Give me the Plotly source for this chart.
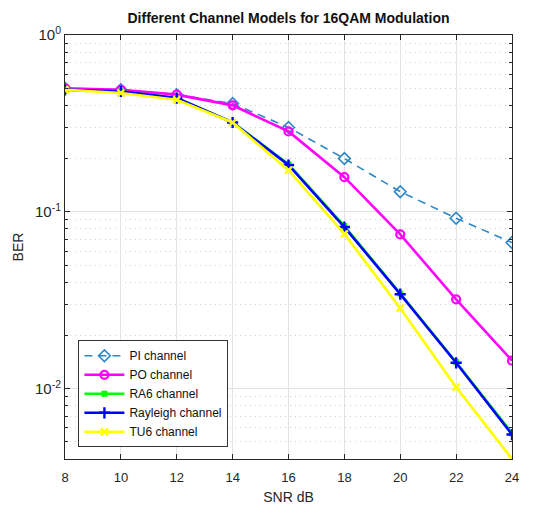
import plotly.graph_objects as go

snr_db = [8, 10, 12, 14, 16, 18, 20, 22, 24]

ber_pi = [0.50, 0.49, 0.46, 0.41, 0.30, 0.20, 0.13, 0.092, 0.067]
ber_po = [0.50, 0.49, 0.46, 0.40, 0.285, 0.157, 0.0745, 0.032, 0.0144]
ber_ra6 = [0.49, 0.48, 0.44, 0.32, 0.186, 0.083, 0.0345, 0.0141, 0.0056]
ber_rayleigh = [0.49, 0.48, 0.44, 0.32, 0.184, 0.082, 0.0342, 0.0140, 0.0055]
ber_tu6 = [0.49, 0.47, 0.43, 0.32, 0.172, 0.075, 0.0285, 0.0102, 0.0040]

series_names = ["PI channel", "PO channel", "RA6 channel", "Rayleigh channel", "TU6 channel"]

x_ticks = [8, 10, 12, 14, 16, 18, 20, 22, 24]
y_ticks = [0.01, 0.1, 1]
y_tick_text = ["10<sup>-2</sup>", "10<sup>-1</sup>", "10<sup>0</sup>"]
y_minor = [m * 10.0 ** e for e in (-3, -2, -1) for m in range(2, 10)]

fig = go.Figure()

fig.add_trace(go.Scatter(
    x=snr_db, y=ber_pi, name=series_names[0], mode="lines+markers",
    line=dict(color="#2b87c6", width=1.6, dash="8px,6px"),
    marker=dict(symbol="diamond-open", size=9, color="#2b87c6", line=dict(width=1.6)),
))
fig.add_trace(go.Scatter(
    x=snr_db, y=ber_po, name=series_names[1], mode="lines+markers",
    line=dict(color="#ff00ff", width=2.6),
    marker=dict(symbol="circle-open", size=8, color="#ff00ff", line=dict(width=2.2)),
))
fig.add_trace(go.Scatter(
    x=snr_db, y=ber_ra6, name=series_names[2], mode="lines+markers",
    line=dict(color="#00ff00", width=2.6),
    marker=dict(symbol="square", size=6, color="#00ff00"),
))
fig.add_trace(go.Scatter(
    x=snr_db, y=ber_rayleigh, name=series_names[3], mode="lines+markers",
    line=dict(color="#0000ff", width=2.6),
    marker=dict(symbol="cross-thin", size=8, color="#0000ff", line=dict(width=2.4, color="#0000ff")),
))
fig.add_trace(go.Scatter(
    x=snr_db, y=ber_tu6, name=series_names[4], mode="lines+markers",
    line=dict(color="#ffff00", width=2.6),
    marker=dict(symbol="x-thin", size=7, color="#ffff00", line=dict(width=2.4, color="#ffff00")),
))

axis_font = dict(family="Liberation Sans, Arial, sans-serif", size=12, color="#262626")

fig.update_layout(
    width=552, height=514,
    margin=dict(l=65, r=40, t=35, b=55),
    paper_bgcolor="white", plot_bgcolor="white",
    font=axis_font,
    title=dict(
        text="<b>Different Channel Models for 16QAM Modulation</b>",
        x=0.5, xanchor="center", xref="paper", y=0.965, yanchor="middle",
        font=dict(family="Liberation Sans, Arial, sans-serif", size=14, color="#111111"),
    ),
    showlegend=True,
    legend=dict(
        x=0.03, y=0.28, xanchor="left", yanchor="top",
        bgcolor="white", bordercolor="#333333", borderwidth=1,
        font=dict(family="Liberation Sans, Arial, sans-serif", size=12, color="#111111"),
        tracegroupgap=0, itemwidth=40,
    ),
)

fig.update_xaxes(
    range=[8, 24], tickvals=x_ticks, ticks="inside", ticklen=5, tickcolor="#262626",
    showline=True, linecolor="#262626", linewidth=1, mirror="ticks",
    showgrid=True, gridcolor="#e3e3e3", gridwidth=1, zeroline=False,
    ticklabelstandoff=6,
    title=dict(text="SNR dB", font=dict(size=14, color="#262626"), standoff=8),
    tickfont=dict(size=13, color="#262626"),
)

fig.update_yaxes(
    type="log", range=[-2.398, 0], tickvals=y_ticks, ticktext=y_tick_text,
    ticks="inside", ticklen=5, tickcolor="#262626",
    showline=True, linecolor="#262626", linewidth=1, mirror="ticks",
    showgrid=True, gridcolor="#e3e3e3", gridwidth=1, zeroline=False,
    minor=dict(tickvals=y_minor, ticks="inside", ticklen=3, tickcolor="#262626",
               showgrid=True, gridcolor="#cfcfcf", griddash="1px,4px", gridwidth=1),
    title=dict(text="BER", font=dict(size=14, color="#262626"), standoff=8),
    tickfont=dict(size=15, color="#262626"),
)

fig.write_html("out.html")
